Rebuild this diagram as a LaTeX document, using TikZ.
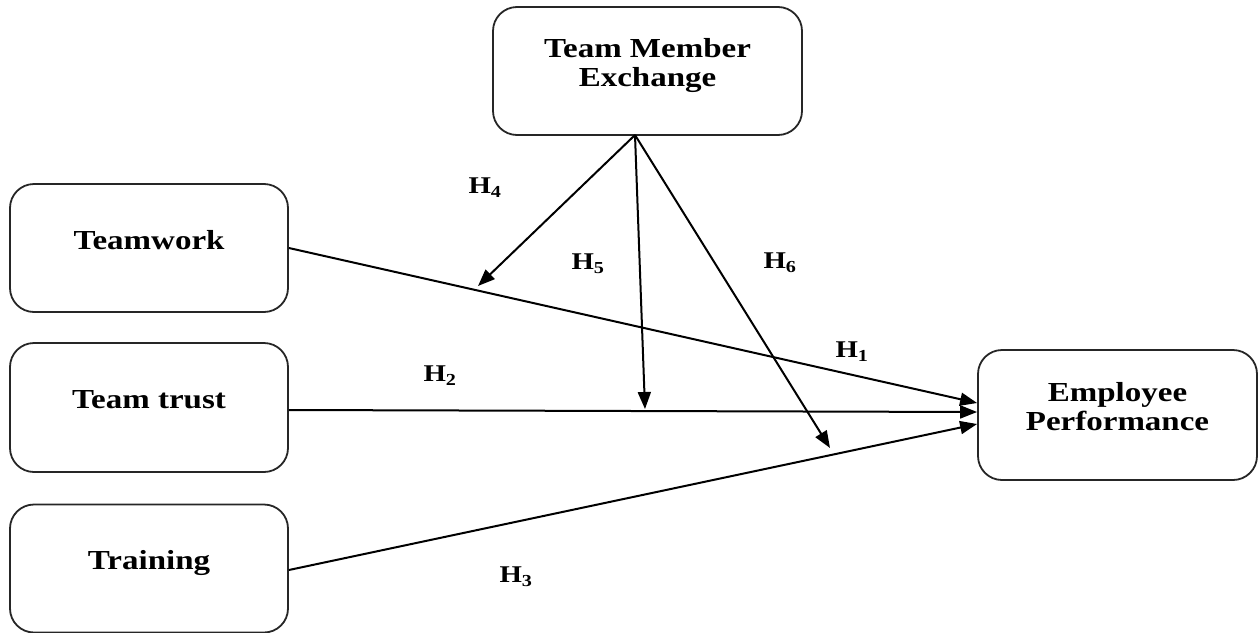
\documentclass[tikz,border=0pt]{standalone}
\usepackage{fontspec}
\setmainfont{Liberation Serif}
\newfontfamily\boxfont[FakeStretch=1.2]{Liberation Serif}
\usetikzlibrary{arrows.meta}

\tikzset{
  varbox/.style = {draw = black!85, line width = 1.8pt, rounded corners = 24pt,
    align = center, inner sep = 0pt, text depth = 17pt,
    font = \boxfont\bfseries\fontsize{27.5}{29}\selectfont},
  hyplabel/.style = {font = \boxfont\bfseries\fontsize{24}{26}\selectfont},
  path/.style = {line width = 2pt, -{Triangle[length = 17pt, width = 13pt]}}
}

\begin{document}
\begin{tikzpicture}[x = 1pt, y = -1pt]
      \useasboundingbox (0, 0) rectangle (1258, 632);
      % constructs
      \node [varbox, minimum width = 309pt, minimum height = 128pt] (tme) at (647.5, 71) {Team Member\\Exchange};
      \node [varbox, minimum width = 278pt, minimum height = 128pt] (teamwork) at (149, 248) {Teamwork};
      \node [varbox, minimum width = 278pt, minimum height = 129pt] (trust) at (149, 407.5) {Team trust};
      \node [varbox, minimum width = 278pt, minimum height = 128pt] (training) at (149, 568.5) {Training};
      \node [varbox, minimum width = 279pt, minimum height = 130pt] (perf) at (1117.5, 415) {Employee\\Performance};
      % end points
      \coordinate (apex) at (635, 135);
      \coordinate (h4tip) at (478, 286);
      \coordinate (h5tip) at (645, 409);
      \coordinate (h6tip) at (830, 448);
      % direct paths
      \draw [path] (teamwork.east) -- ([yshift = 12pt] perf.west);
      \draw [path] ([yshift = -2.5pt] trust.east) -- ([yshift = 3pt] perf.west);
      \draw [path] ([yshift = -1.5pt] training.east) -- ([yshift = -9pt] perf.west);
      % moderating paths
      \draw [path] (apex) -- (h4tip);
      \draw [path] (apex) -- (h5tip);
      \draw [path] (apex) -- (h6tip);
      % labels
      \node [hyplabel] (l1) at (852, 352) {H\textsubscript{1}};
      \node [hyplabel] (l2) at (440, 376) {H\textsubscript{2}};
      \node [hyplabel] (l3) at (516, 577) {H\textsubscript{3}};
      \node [hyplabel] (l4) at (485, 188) {H\textsubscript{4}};
      \node [hyplabel] (l5) at (588, 264) {H\textsubscript{5}};
      \node [hyplabel] (l6) at (780, 263) {H\textsubscript{6}};
    \end{tikzpicture}
\end{document}
